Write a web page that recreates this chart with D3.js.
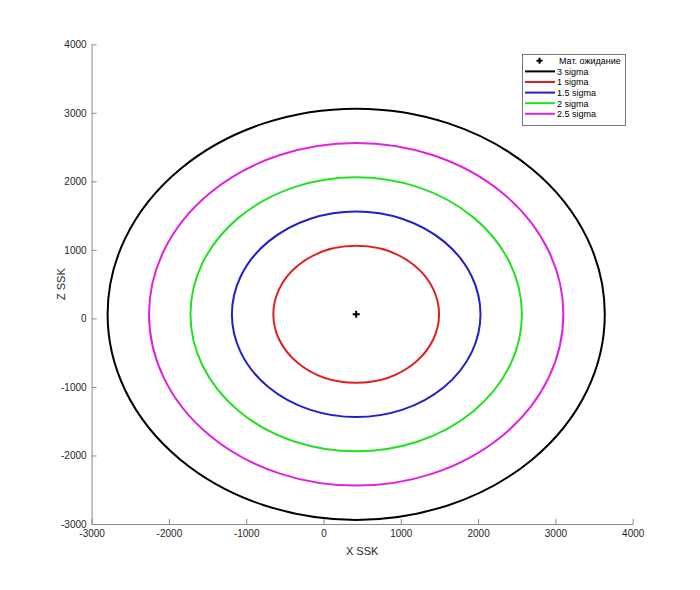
<!DOCTYPE html>
<html>
<head>
<meta charset="utf-8">
<script src="https://cdn.jsdelivr.net/npm/d3@7"></script>
<style>
  html, body { margin: 0; padding: 0; background: #fff; }
  svg { display: block; font-family: "Liberation Sans", Arial, Helvetica, sans-serif; }
</style>
</head>
<body>
<svg id="chart" width="700" height="590"></svg>
<script>
// ---- data ----
const xTicks = [-3000, -2000, -1000, 0, 1000, 2000, 3000, 4000];
const zTicks = [-3000, -2000, -1000, 0, 1000, 2000, 3000, 4000];
const meanX = 423;          // expected value, X SSK
const meanZ = 60;           // expected value, Z SSK
const sigmaX = 1072;        // one sigma along X
const sigmaZ = 1000;        // one sigma along Z
const levels = [3, 1, 1.5, 2, 2.5];
const levelLabels = ["3 sigma", "1 sigma", "1.5 sigma", "2 sigma", "2.5 sigma"];
const meanLabel = "Мат. ожидание";
const xLabel = "X SSK";
const zLabel = "Z SSK";

// ---- styles ----
const levelColors = ["#000000", "#e02020", "#2020c8", "#22e022", "#e022e0"];

const svg = d3.select("#chart");
const mLeft = 91.6, mRight = 632.7, mTop = 44.3, mBottom = 524;

const x = d3.scaleLinear().domain([-3000, 4000]).range([mLeft, mRight]);
const y = d3.scaleLinear().domain([-3000, 4000]).range([mBottom, mTop]);

// ellipses
svg.append("g").selectAll("ellipse")
  .data(levels)
  .join("ellipse")
  .attr("cx", x(meanX))
  .attr("cy", y(meanZ))
  .attr("rx", d => x(meanX + d * sigmaX) - x(meanX))
  .attr("ry", d => y(meanZ) - y(meanZ + d * sigmaZ))
  .attr("fill", "none")
  .attr("stroke", (d, i) => levelColors[i])
  .attr("stroke-width", 2);

// mean marker
svg.append("path")
  .attr("d", "M-3.5,0L3.5,0M0,-3.5L0,3.5")
  .attr("transform", `translate(${x(meanX)},${y(meanZ)})`)
  .attr("stroke", "#000")
  .attr("stroke-width", 2)
  .attr("fill", "none");

// axes
const axisColor = "#8a8a8a";
const textColor = "#262626";
const fmt = d => String(d);

const xAxis = svg.append("g")
  .attr("transform", `translate(0,${mBottom})`)
  .call(d3.axisBottom(x).tickValues(xTicks).tickSizeInner(-5).tickSizeOuter(0).tickPadding(6).tickFormat(fmt));
const yAxis = svg.append("g")
  .attr("transform", `translate(${mLeft},0)`)
  .call(d3.axisLeft(y).tickValues(zTicks).tickSizeInner(-5).tickSizeOuter(0).tickPadding(6).tickFormat(fmt));

[xAxis, yAxis].forEach(a => {
  a.select(".domain").attr("stroke", axisColor).attr("stroke-width", 1);
  a.selectAll(".tick line").attr("stroke", axisColor);
  a.selectAll(".tick text").attr("fill", textColor).attr("font-size", 10)
    .attr("font-family", "'Liberation Sans', Arial, sans-serif");
});
xAxis.selectAll(".tick text").attr("y", 4).attr("dy", "0.9em");
yAxis.selectAll(".tick text").attr("x", -5);

// axis labels
svg.append("text")
  .attr("x", (mLeft + mRight) / 2).attr("y", 555)
  .attr("text-anchor", "middle").attr("font-size", 11).attr("fill", textColor)
  .text(xLabel);
svg.append("text")
  .attr("transform", `translate(65,${(mTop + mBottom) / 2}) rotate(-90)`)
  .attr("text-anchor", "middle").attr("font-size", 11).attr("fill", textColor)
  .text(zLabel);

// legend
const lg = svg.append("g");
lg.append("rect")
  .attr("x", 522.5).attr("y", 54.5).attr("width", 103).attr("height", 71)
  .attr("fill", "#fff").attr("stroke", "#555").attr("stroke-width", 0.8);
const rowY = i => 60.8 + i * 10.6;
lg.append("path")
  .attr("d", "M-3,0L3,0M0,-3L0,3")
  .attr("transform", `translate(539.5,${rowY(0)})`)
  .attr("stroke", "#000").attr("stroke-width", 2);
lg.append("text")
  .attr("x", 559).attr("y", rowY(0) + 3.3)
  .attr("font-size", 9).attr("fill", "#000")
  .text(meanLabel);
levelLabels.forEach((lab, i) => {
  const yy = rowY(i + 1);
  lg.append("line")
    .attr("x1", 525).attr("x2", 555).attr("y1", yy).attr("y2", yy)
    .attr("stroke", levelColors[i]).attr("stroke-width", 2);
  lg.append("text")
    .attr("x", 557).attr("y", yy + 3.3)
    .attr("font-size", 9).attr("fill", "#000")
    .text(lab);
});
</script>
</body>
</html>
